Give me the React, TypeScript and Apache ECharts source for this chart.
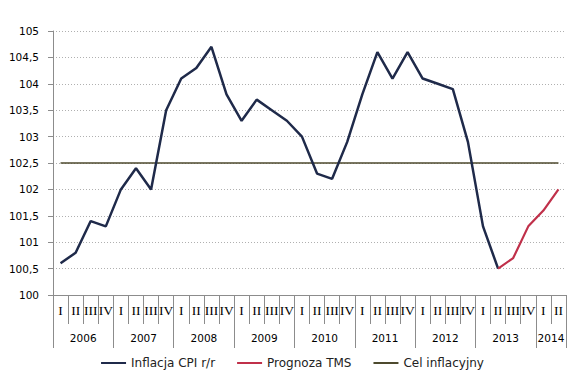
import React, { useEffect, useRef } from "react";
import * as echarts from "echarts";

const years = ["2006", "2007", "2008", "2009", "2010", "2011", "2012", "2013", "2014"];
const quarterNames = ["I", "II", "III", "IV"];
const quarters: string[] = [];
const yearOfQuarter: string[] = [];
years.forEach((y) => {
  const n = y === "2014" ? 2 : 4;
  for (let i = 0; i < n; i++) {
    quarters.push(quarterNames[i]);
    yearOfQuarter.push(y);
  }
});

const cpiValues = [
  100.6, 100.8, 101.4, 101.3,
  102.0, 102.4, 102.0, 103.5,
  104.1, 104.3, 104.7, 103.8,
  103.3, 103.7, 103.5, 103.3,
  103.0, 102.3, 102.2, 102.9,
  103.8, 104.6, 104.1, 104.6,
  104.1, 104.0, 103.9, 102.9,
  101.3, 100.5,
];
const forecastValues = [100.5, 100.7, 101.3, 101.6, 102.0];
const targetValue = 102.5;

const cpiData = quarters.map((_, i) => (i < cpiValues.length ? cpiValues[i] : null));
const forecastStart = quarters.length - forecastValues.length;
const forecastData = quarters.map((_, i) => (i >= forecastStart ? forecastValues[i - forecastStart] : null));
const targetData = quarters.map(() => targetValue);

const NAVY = "#1f2a4a";
const RED = "#c0304a";
const OLIVE = "#4d4a2e";

export default function App() {
  const ref = useRef<HTMLDivElement>(null);
  useEffect(() => {
    if (!ref.current) return;
    const chart = echarts.init(ref.current, null, { renderer: "svg" });
    const gray = "#8c8c8c";
    chart.setOption({
      animation: false,
      grid: { left: 53, right: 18, top: 31, bottom: 86 },
      legend: {
        left: "center",
        top: 352,
        itemWidth: 25,
        itemHeight: 14,
        itemGap: 21,
        itemStyle: { opacity: 0 },
        textStyle: { fontFamily: "DejaVu Sans", fontSize: 12, color: "#222" },
        data: ["Inflacja CPI r/r", "Prognoza TMS", "Cel inflacyjny"],
      },
      xAxis: [
        {
          type: "category",
          data: quarters,
          boundaryGap: true,
          position: "bottom",
          axisLine: { show: true, lineStyle: { color: gray, width: 1 } },
          axisTick: { show: true, interval: 0, length: 29, lineStyle: { color: gray } },
          axisLabel: {
            interval: 0,
            margin: 8,
            fontFamily: "Liberation Serif",
            fontSize: 13.5,
            color: "#000",
          },
        },
        {
          type: "category",
          data: yearOfQuarter,
          boundaryGap: true,
          position: "bottom",
          axisLine: { show: false },
          axisTick: {
            show: true,
            length: 53,
            interval: (i: number) => i % 4 === 0,
            lineStyle: { color: gray },
          },
          axisLabel: {
            interval: (i: number) => i % 4 === 2 || i === quarters.length - 1,
            margin: 37,
            padding: [0, 15, 0, 0],
            fontFamily: "DejaVu Sans",
            fontSize: 10.5,
            color: "#000",
          },
        },
      ],
      yAxis: {
        type: "value",
        min: 100,
        max: 105,
        interval: 0.5,
        axisLine: { show: true, lineStyle: { color: gray } },
        axisTick: { show: true, length: 5, lineStyle: { color: gray } },
        axisLabel: {
          margin: 14,
          fontFamily: "DejaVu Sans",
          fontSize: 10.5,
          color: "#000",
          formatter: (v: number) => String(v).replace(".", ","),
        },
        splitLine: { show: true, lineStyle: { color: "#b0b0b0", type: [1, 2], width: 1 } },
      },
      series: [
        {
          name: "Inflacja CPI r/r",
          type: "line",
          data: cpiData,
          symbol: "none",
          lineStyle: { color: NAVY, width: 2.5 },
          itemStyle: { color: NAVY },
          z: 3,
        },
        {
          name: "Prognoza TMS",
          type: "line",
          data: forecastData,
          symbol: "none",
          lineStyle: { color: RED, width: 2.2 },
          itemStyle: { color: RED },
          z: 4,
        },
        {
          name: "Cel inflacyjny",
          type: "line",
          data: targetData,
          symbol: "none",
          lineStyle: { color: OLIVE, width: 1.3 },
          itemStyle: { color: OLIVE },
          z: 2,
        },
      ],
    });
    return () => chart.dispose();
  }, []);
  return <div ref={ref} style={{ width: 584, height: 381, margin: -8 }} />;
}
